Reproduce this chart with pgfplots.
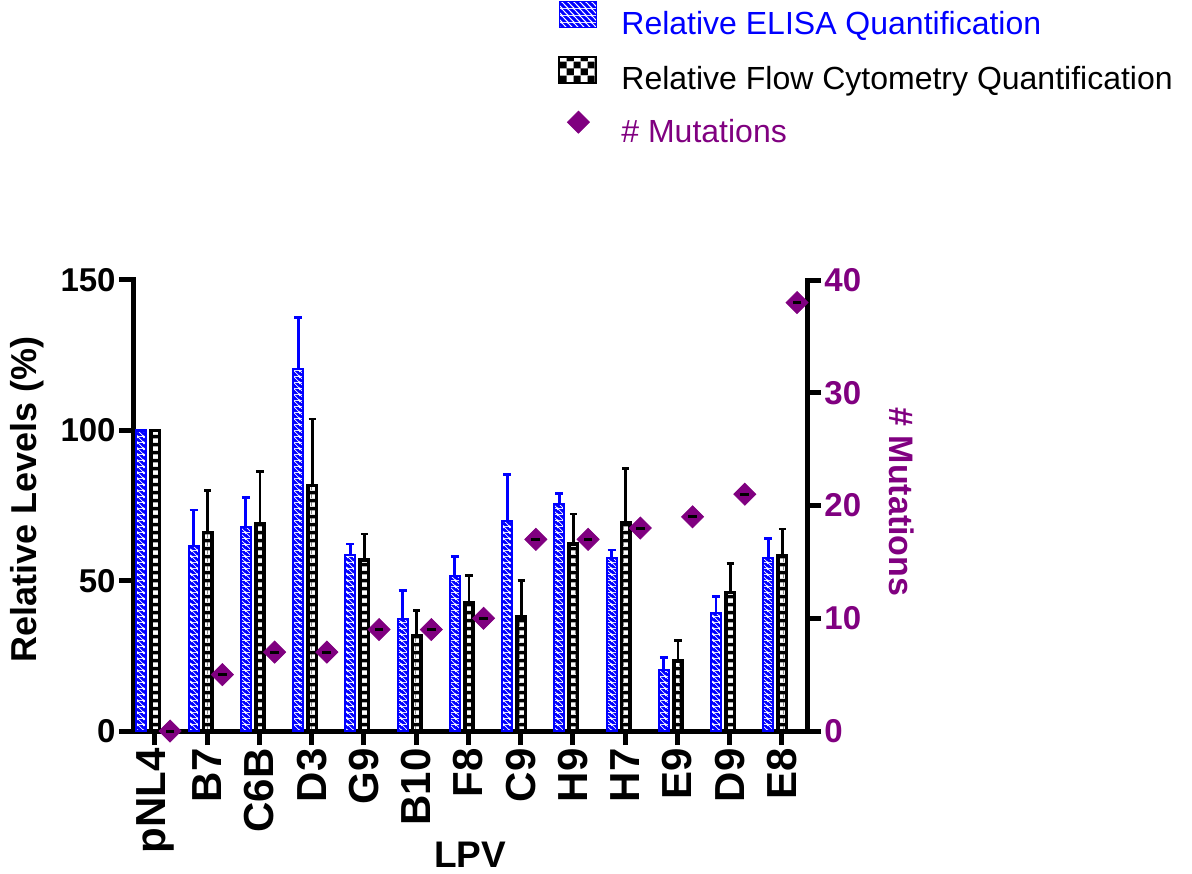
\documentclass[border=0pt]{standalone}
\usepackage{pgfplots}
\pgfplotsset{compat=1.18}
\usepackage{pgfplotstable}
\usepackage{fontspec}
\setmainfont{Liberation Sans}
\usetikzlibrary{patterns.meta}

\definecolor{mutpurple}{HTML}{800080}

% Fill patterns: white diagonal stripes on blue, white/black checks
\tikzdeclarepattern{
  name=elisa, type=colored,
  bounding box={(0pt,0pt) and (3pt,3pt)},
  tile size={(3pt,3pt)},
  code={
    \fill[blue] (0pt,0pt) rectangle (3pt,3pt);
    \draw[white, line width=0.4pt] (-1pt,4pt) -- (4pt,-1pt);
    \draw[white, line width=0.4pt] (-1.5pt,1.5pt) -- (1.5pt,-1.5pt);
    \draw[white, line width=0.4pt] (1.5pt,4.5pt) -- (4.5pt,1.5pt);
  }
}
\tikzdeclarepattern{
  name=elisabig, type=colored,
  bounding box={(0pt,0pt) and (3.2pt,3.2pt)},
  tile size={(3.2pt,3.2pt)},
  code={
    \fill[blue] (0pt,0pt) rectangle (3.2pt,3.2pt);
    \draw[white, line width=0.55pt] (-1pt,4.2pt) -- (4.2pt,-1pt);
    \draw[white, line width=0.55pt] (-1.6pt,1.6pt) -- (1.6pt,-1.6pt);
    \draw[white, line width=0.55pt] (1.6pt,4.8pt) -- (4.8pt,1.6pt);
  }
}
% narrow bars show a single column of the checks
\tikzdeclarepattern{
  name=flow, type=colored,
  bounding box={(0pt,0pt) and (4pt,4pt)},
  tile size={(4pt,4pt)},
  code={
    \fill[black] (0pt,0pt) rectangle (4pt,4pt);
    \fill[white] (0pt,0pt) rectangle (4pt,2pt);
  }
}
\tikzdeclarepattern{
  name=flowbig, type=colored,
  bounding box={(0pt,0pt) and (7pt,7pt)},
  tile size={(7pt,7pt)},
  code={
    \fill[black] (0pt,0pt) rectangle (7pt,7pt);
    \fill[white] (0pt,0pt) rectangle (3.5pt,3.5pt);
    \fill[white] (3.5pt,3.5pt) rectangle (7pt,7pt);
  }
}

% idx: LPV position; errors are upper SD
\pgfplotstableread{
idx blue  blueerr black blackerr mut
0   100   0       100   0        0
1   61.5  12.0    66.0  14.0     5
2   68.0  9.7     69.0  17.2     7
3   120.3 17.3    81.6  22.2     7
4   58.5  3.7     56.9  8.6      9
5   37.1  9.5     31.6  8.4      9
6   51.7  6.3     42.8  8.9      10
7   69.9  15.5    38.0  12.0     17
8   75.5  3.5     62.1  10.1     17
9   57.4  2.8     69.1  18.3     18
10  20.3  4.2     23.3  6.7      19
11  39.1  5.6     46.1  9.7      21
12  57.4  6.7     58.3  8.9      38
}\lpvdata

\begin{document}
\begin{tikzpicture}
\begin{axis}[
  at={(66.5pt,71pt)}, anchor=south west,
  scale only axis, width=337pt, height=225.5pt,
  xmin=-0.42, xmax=12.48, ymin=0, ymax=150,
  axis lines*=left,
  axis line style={line width=2.5pt, line cap=rect},
  tick align=outside,
  major tick length=7pt,
  tick style={line width=2.5pt, black},
  xtick={0,...,12},
  xticklabels={pNL4,B7,C6B,D3,G9,B10,F8,C9,H9,H7,E9,D9,E8},
  ytick={0,50,100,150},
  /pgf/number format/assume math mode=true,
  yticklabel style={font=\bfseries\fontsize{16.5}{18}\selectfont, inner sep=1.5pt},
  xticklabel style={font=\bfseries\fontsize{21}{23}\selectfont, rotate=90, anchor=east, inner sep=1.5pt},
  ylabel={Relative Levels (\%)},
  ylabel style={font=\bfseries\fontsize{18}{20}\selectfont, at={(axis description cs:-0.157,0.514)}, anchor=center},
  xlabel={LPV},
  xlabel style={font=\bfseries\fontsize{18.5}{20}\selectfont, at={(axis description cs:0.5,-0.274)}, anchor=center},
  legend style={at={(axis description cs:0.6306,1.62)}, anchor=north west,
    draw=none, fill=none, inner sep=0pt,
    font=\fontsize{16}{18}\selectfont, row sep=7pt,
    /tikz/every odd column/.append style={column sep=10pt}},
  legend cell align=left,
  clip=false,
]
\addlegendimage{legend image code/.code={\draw[pattern=elisabig, draw=blue, line width=0.8pt] (0pt,-1.5pt) rectangle (18.5pt,11.5pt);}}
\addlegendentry{\textcolor{blue}{Relative ELISA Quantification}}
\addlegendimage{legend image code/.code={\draw[pattern=flowbig, draw=black, line width=1pt] (0pt,-1.5pt) rectangle (18.5pt,11.5pt);}}
\addlegendentry{Relative Flow Cytometry Quantification}
\addlegendimage{legend image code/.code={\fill[mutpurple] (9.5pt,10.5pt) -- (15pt,5pt) -- (9.5pt,-0.5pt) -- (4pt,5pt) -- cycle;}}
\addlegendentry{\textcolor{mutpurple}{\# Mutations}}

% ELISA bars
\addplot[forget plot, ybar, bar width=0.19, bar shift=0pt,
  draw=blue, line width=1pt, pattern=elisa,
  error bars/.cd, y dir=plus, y explicit,
  error bar style={line width=1.4pt, blue},
  error mark options={rotate=90, line width=1.4pt, mark size=2pt, blue}]
  table[x expr=\thisrow{idx}-0.26, y=blue, y error=blueerr]{\lpvdata};
% Flow cytometry bars
\addplot[forget plot, ybar, bar width=0.16, bar shift=0pt,
  draw=black, line width=1.8pt, pattern=flow,
  error bars/.cd, y dir=plus, y explicit,
  error bar style={line width=1.4pt, black},
  error mark options={rotate=90, line width=1.4pt, mark size=1.8pt, black}]
  table[x expr=\thisrow{idx}+0.01, y=black, y error=blackerr]{\lpvdata};
\end{axis}

% Mutation counts on the right-hand axis
\begin{axis}[
  at={(66.5pt,71pt)}, anchor=south west,
  scale only axis, width=337pt, height=225.5pt,
  xmin=-0.42, xmax=12.48, ymin=0, ymax=40,
  axis x line=none, axis y line*=right,
  axis line style={line width=2.5pt, line cap=rect},
  tick align=outside, major tick length=7pt,
  tick style={line width=2.5pt, black},
  ytick={0,10,20,30,40},
  /pgf/number format/assume math mode=true,
  yticklabel style={font=\bfseries\fontsize{16.5}{18}\selectfont, text=mutpurple, inner sep=1.5pt},
  ylabel={\# Mutations},
  ylabel style={font=\bfseries\fontsize{17}{19}\selectfont, text=mutpurple, at={(axis description cs:1.141,0.508)}, anchor=center, rotate=180},
  clip=false,
]
\addplot[only marks, mark=square*, mark size=3.9pt,
  mark options={rotate=45, draw=mutpurple, fill=mutpurple}]
  table[x expr=\thisrow{idx}+0.29, y=mut]{\lpvdata};
\addplot[only marks, mark=-, mark size=2.2pt,
  mark options={line width=1.5pt, black}]
  table[x expr=\thisrow{idx}+0.29, y=mut]{\lpvdata};
\end{axis}

\pgfresetboundingbox
\path[use as bounding box] (0,0) rectangle (596pt,436.5pt);
\end{tikzpicture}
\end{document}
